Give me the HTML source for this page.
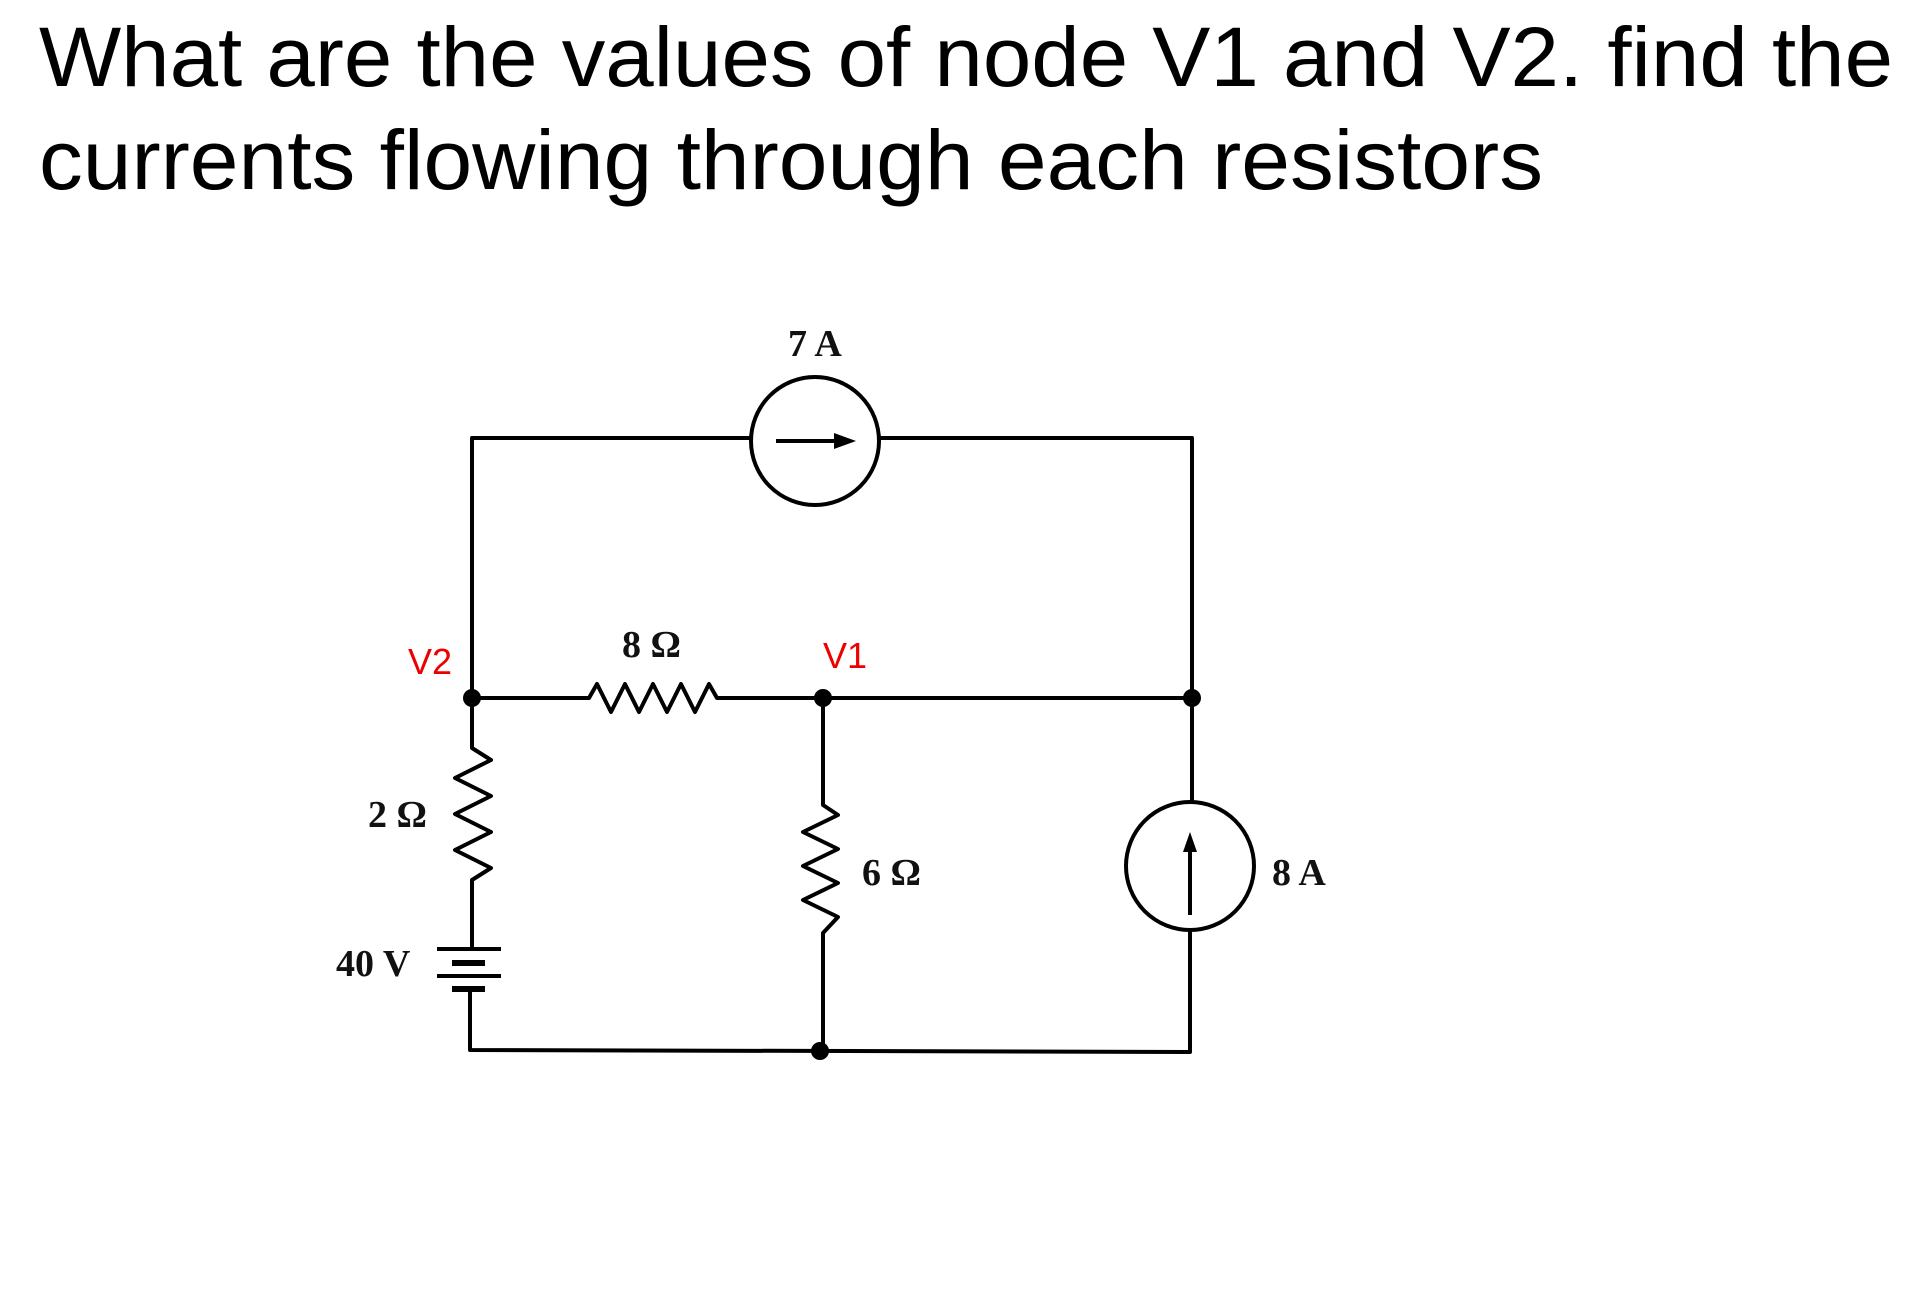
<!DOCTYPE html>
<html><head><meta charset="utf-8"><style>
html,body{margin:0;padding:0;background:#fff;}
svg{display:block;}
</style></head><body>
<svg width="1931" height="1315" viewBox="0 0 1931 1315" xmlns="http://www.w3.org/2000/svg">
<g font-family="Liberation Sans, sans-serif" fill="#000">
<text x="39" y="86" font-size="84" textLength="1854" lengthAdjust="spacingAndGlyphs">What are the values of node V1 and V2. find the</text>
<text x="39" y="189" font-size="84" textLength="1504" lengthAdjust="spacingAndGlyphs">currents flowing through each resistors</text>
</g>
<g stroke="#000" stroke-width="4" fill="none" stroke-linejoin="round">
<!-- top branch -->
<polyline points="472,698 472,438 751,438"/>
<polyline points="879,438 1192,438 1192,802"/>
<circle cx="815" cy="441" r="64"/>
<line x1="776" y1="441" x2="846" y2="441"/>
<!-- middle row -->
<polyline points="472,698 589,698 597,684 611,712 625,684 639,712 653,684 667,712 681,684 695,712 709,684 717,698 823,698 1192,698"/>
<!-- left branch -->
<polyline points="472,698 472,748 491,760 455,778 491,796 455,814 491,832 455,850 491,868 472,880 472,949"/>
<line x1="437" y1="949" x2="501" y2="949"/>
<line x1="452" y1="963" x2="485" y2="963" stroke-width="6"/>
<line x1="437" y1="976" x2="501" y2="976"/>
<line x1="452" y1="989" x2="485" y2="989" stroke-width="6"/>
<polyline points="470,989 470,1050 1190,1052 1190,930"/>
<!-- 6 ohm -->
<polyline points="823,698 823,805 838,815 803,832 838,849 803,866 838,883 803,900 838,917 823,933 823,1050"/>
<!-- 8A -->
<circle cx="1190" cy="866" r="64"/>
<line x1="1190" y1="915" x2="1190" y2="845"/>
</g>
<polygon points="856,441 834,433 834,449" fill="#000"/>
<polygon points="1190,832 1183,852 1197,852" fill="#000"/>
<g fill="#000">
<circle cx="472" cy="698" r="9"/>
<circle cx="823" cy="698" r="9"/>
<circle cx="1192" cy="698" r="9"/>
<circle cx="820" cy="1051" r="9"/>
</g>
<g font-family="Liberation Serif, serif" font-weight="bold" font-size="38" fill="#111">
<text x="788" y="356">7 A</text>
<text x="622" y="657">8 Ω</text>
<text x="368" y="827">2 Ω</text>
<text x="862" y="885">6 Ω</text>
<text x="1272" y="885">8 A</text>
<text x="336" y="976">40 V</text>
</g>
<g font-family="Liberation Sans, sans-serif" font-size="36" fill="#e00">
<text x="408" y="674">V2</text>
<text x="823" y="668">V1</text>
</g>
</svg>
</body></html>
